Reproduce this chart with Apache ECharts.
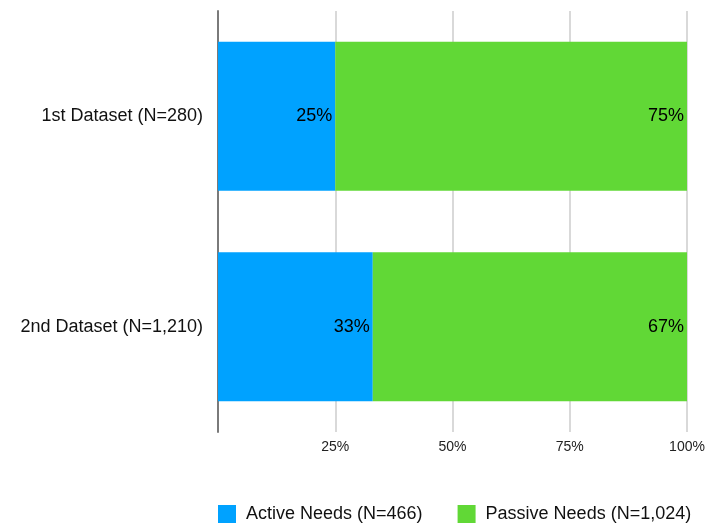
<!DOCTYPE html>
<html>
<head>
<meta charset="utf-8">
<style>
  html, body { margin: 0; padding: 0; background: #fff; }
  #chart { width: 705px; height: 524px; }
</style>
<script src="https://cdn.jsdelivr.net/npm/echarts@6/dist/echarts.min.js"></script>
</head>
<body>
<div id="chart"></div>
<script>
// Share of needs per dataset (percent)
const categories = ['1st Dataset (N=280)', '2nd Dataset (N=1,210)'];
const activeNeeds = [25, 33];
const passiveNeeds = [75, 67];
const seriesNames = ['Active Needs (N=466)', 'Passive Needs (N=1,024)'];
const xTicks = [0, 25, 50, 75, 100];

const FONT = '"Liberation Sans", Arial, Helvetica, sans-serif';

const chart = echarts.init(document.getElementById('chart'), null, { renderer: 'canvas' });

const labelStyle = {
  show: true,
  position: 'insideRight',
  distance: 3,
  color: '#000',
  fontSize: 18,
  fontFamily: FONT,
  formatter: p => p.value + '%'
};

chart.setOption({
  animation: false,
  textStyle: { fontFamily: FONT },
  grid: {
    left: 218, right: 18, top: 11, bottom: 92,
    containLabel: false,
    outerBoundsMode: 'none'
  },
  legend: {
    data: seriesNames,
    left: 218,
    top: 505,
    padding: 0,
    icon: 'rect',
    itemWidth: 18,
    itemHeight: 18,
    itemGap: 35,
    textStyle: { fontSize: 18, color: '#111', fontFamily: FONT, padding: [0, 0, 0, 5] }
  },
  xAxis: {
    type: 'value',
    min: xTicks[0],
    max: xTicks[xTicks.length - 1],
    interval: 25,
    axisLine: { show: false },
    axisTick: { show: false },
    splitLine: { show: true, lineStyle: { color: '#d9d9d9', width: 2 } },
    axisLabel: {
      color: '#222',
      fontSize: 14,
      margin: 8,
      fontFamily: FONT,
      formatter: v => (v === 0 ? '' : v + '%')
    }
  },
  yAxis: {
    type: 'category',
    data: categories,
    inverse: true,
    axisLine: { show: true, lineStyle: { color: '#7a7a7a', width: 2 } },
    axisTick: { show: false },
    axisLabel: { color: '#111', fontSize: 18, margin: 15, fontFamily: FONT }
  },
  series: [
    {
      name: seriesNames[0],
      type: 'bar',
      stack: 'total',
      barWidth: 149,
      itemStyle: { color: '#00A2FF' },
      label: labelStyle,
      data: activeNeeds
    },
    {
      name: seriesNames[1],
      type: 'bar',
      stack: 'total',
      barWidth: 149,
      itemStyle: { color: '#61D836' },
      label: labelStyle,
      data: passiveNeeds
    }
  ]
});
</script>
</body>
</html>
